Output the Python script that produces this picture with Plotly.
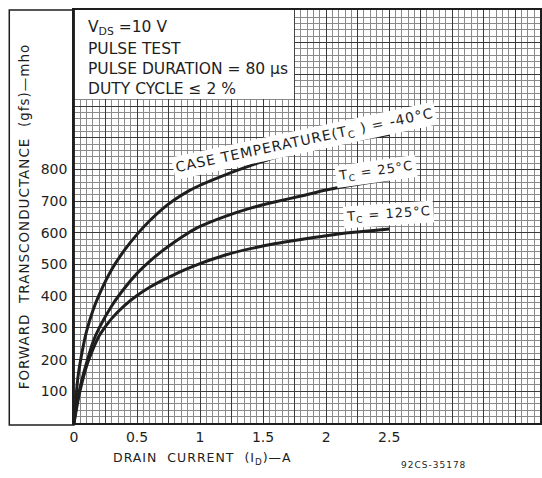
import plotly.graph_objects as go

# ---- data (Drain current A, transconductance mho) ----
i_m40 = [0, 0.03, 0.06, 0.1, 0.15, 0.2, 0.3, 0.4, 0.5, 0.6, 0.7, 0.8, 0.9, 1.0, 1.2, 1.4, 1.6, 1.8, 2.0, 2.2, 2.4, 2.5]
g_m40 = [0, 140, 215, 290, 355, 405, 485, 545, 595, 638, 675, 705, 730, 750, 783, 812, 838, 858, 876, 891, 904, 910]

i_25 = [0, 0.02, 0.05, 0.1, 0.15, 0.2, 0.3, 0.4, 0.5, 0.6, 0.7, 0.8, 0.9, 1.0, 1.2, 1.4, 1.6, 1.8, 2.0, 2.2, 2.4, 2.5]
g_25 = [0, 55, 115, 190, 255, 300, 370, 425, 472, 510, 543, 572, 598, 620, 652, 678, 698, 716, 735, 750, 762, 767]

i_125 = [0, 0.02, 0.05, 0.1, 0.15, 0.2, 0.3, 0.4, 0.5, 0.6, 0.7, 0.8, 0.9, 1.0, 1.2, 1.4, 1.6, 1.8, 2.0, 2.2, 2.4, 2.5]
g_125 = [0, 45, 105, 180, 232, 275, 330, 370, 402, 428, 450, 469, 487, 503, 530, 550, 566, 579, 591, 601, 608, 612]

x_tickvals = [0, 0.5, 1, 1.5, 2, 2.5]
x_ticktext = ["0", "0.5", "1", "1.5", "2", "2.5"]
y_tickvals = [100, 200, 300, 400, 500, 600, 700, 800]
y_ticktext = ["100", "200", "300", "400", "500", "600", "700", "800"]

box_lines = ["V<sub>DS</sub> =10 V", "PULSE TEST", "PULSE DURATION = 80 \u03bcs", "DUTY CYCLE \u2264 2 %"]
curve_labels = ["CASE TEMPERATURE(T<sub>C</sub> ) = -40\u00b0C", "T<sub>C</sub> = 25\u00b0C", "T<sub>C</sub> = 125\u00b0C"]
x_title = "DRAIN  CURRENT  (I<sub>D</sub>)\u2014A"
y_title = "FORWARD  TRANSCONDUCTANCE  (gfs)\u2014mho"
code_text = "92CS-35178"

W, H = 542, 478
L, R, T, B = 74, 0, 10, 55
PW, PH = W - L - R, H - T - B
FONT = "DejaVu Sans"
INK = "#1e1e1e"
XR = [0, PW / 126.6]
YR = [0, PH / 0.317]


def px(xp):
    return (xp - L) / PW


def py(yp):
    return (H - B - yp) / PH


def sp(text, ls):
    return '<span style="letter-spacing:%spx">%s</span>' % (ls, text)


fig = go.Figure()
# empty trace that anchors the grid-only axes
fig.add_trace(go.Scatter(x=[], y=[], xaxis="x2", yaxis="y2", hoverinfo="skip", showlegend=False))
for xs, ys in [(i_m40, g_m40), (i_25, g_25), (i_125, g_125)]:
    fig.add_trace(go.Scatter(x=xs, y=ys, mode="lines",
                             line=dict(color=INK, width=3, shape="spline", smoothing=0.8),
                             hoverinfo="skip", showlegend=False))

grid_major = dict(showgrid=True, gridcolor="#3a3a3a", gridwidth=1.4, zeroline=False,
                  showticklabels=False, ticks="", showline=False)
grid_minor = dict(tickmode="linear", tick0=0, showgrid=True, gridcolor="#8a8a8a", gridwidth=1, ticks="")

fig.update_layout(
    width=W, height=H,
    margin=dict(l=L, r=R, t=T, b=B, pad=0),
    paper_bgcolor="white", plot_bgcolor="white",
    font=dict(family=FONT, color=INK, size=14),
    showlegend=False,
    xaxis=dict(range=XR, tickmode="array", tickvals=x_tickvals, ticktext=x_ticktext,
               showgrid=False, zeroline=False,
               showline=True, linecolor=INK, linewidth=1.5, mirror=True, ticks="",
               tickfont=dict(size=14, family=FONT, color=INK)),
    yaxis=dict(range=YR, tickmode="array", tickvals=y_tickvals, ticktext=y_ticktext,
               showgrid=False, zeroline=False,
               showline=True, linecolor=INK, linewidth=1.5, mirror=True, ticks="",
               ticklabelstandoff=2,
               tickfont=dict(size=14, family=FONT, color=INK),
               title=dict(text=sp(y_title, 1), standoff=8,
                          font=dict(size=13.5, family=FONT, color=INK))),
    xaxis2=dict(range=XR, overlaying="x", anchor="y2", tickmode="linear", tick0=0, dtick=0.25,
                minor=dict(grid_minor, dtick=0.05), **grid_major),
    yaxis2=dict(range=YR, overlaying="y", anchor="x2", tickmode="linear", tick0=0, dtick=100,
                minor=dict(grid_minor, dtick=20), **grid_major),
)

# white legend box at top-left over the grid
fig.add_shape(type="rect", xref="paper", yref="paper",
              x0=0, x1=px(295), y0=py(99), y1=1.0,
              fillcolor="white", line=dict(width=0), layer="above")
# left frame column for the y-axis title
fig.add_shape(type="rect", xref="paper", yref="paper",
              x0=px(9), x1=0, y0=py(425), y1=1.0,
              fillcolor="rgba(0,0,0,0)", line=dict(color=INK, width=1.5), layer="above")
fig.add_shape(type="line", xref="paper", yref="paper",
              x0=0, x1=0, y0=0, y1=1.0, line=dict(color=INK, width=1.5), layer="above")

for txt, yp in zip(box_lines, [28, 49, 69, 89]):
    fig.add_annotation(x=px(86), y=py(yp), xref="paper", yref="paper",
                       text=txt, showarrow=False, xanchor="left", yanchor="middle",
                       font=dict(size=15.5, family=FONT, color=INK))

# curve labels
lab_pos = [((305, 141), -12, 14), ((377, 171), -8, 13), ((390, 214), -4, 13)]
for txt, ((xp, yp), ang, fs) in zip(curve_labels, lab_pos):
    fig.add_annotation(x=(xp - L) / 126.6, y=(H - B - yp) / 0.317, xref="x", yref="y",
                       text=sp(txt, 1), showarrow=False, textangle=ang,
                       bgcolor="white", borderpad=2,
                       font=dict(size=fs, family=FONT, color=INK))

# x-axis title (offset to the left like the reference)
fig.add_annotation(x=px(203), y=py(458), xref="paper", yref="paper", text=sp(x_title, 1),
                   showarrow=False, xanchor="center", yanchor="middle",
                   font=dict(size=12.5, family=FONT, color=INK))
fig.add_annotation(x=px(435), y=py(465), xref="paper", yref="paper", text=sp(code_text, 1),
                   showarrow=False, xanchor="center", yanchor="middle",
                   font=dict(size=9, family=FONT, color=INK))

fig.write_html("out.html")
